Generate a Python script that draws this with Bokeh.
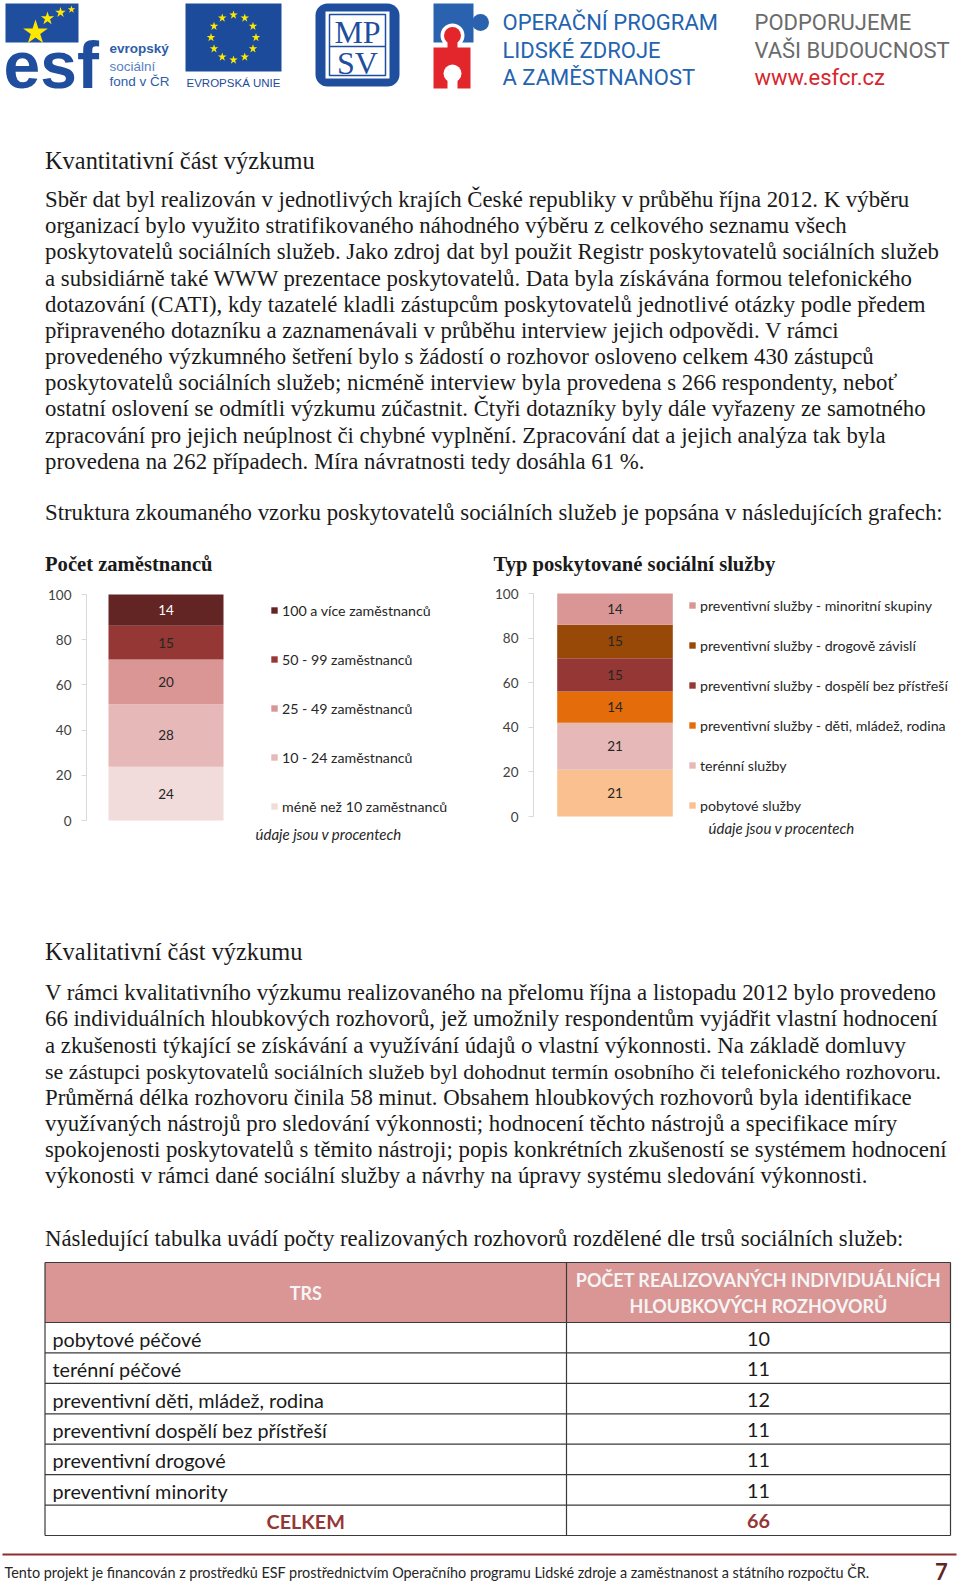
import numpy as np
from bokeh.plotting import figure
from bokeh.models import Range1d, FixedTicker, Legend, LegendItem, ColumnDataSource
from bokeh.layouts import column, row
from bokeh.embed import file_html
from bokeh.resources import INLINE
from bokeh.core.properties import value

# ---------------- data / texts ----------------
heading_1 = "Kvantitativní část výzkumu"
para_1 = [
    "Sběr dat byl realizován v jednotlivých krajích České republiky v průběhu října 2012. K výběru",
    "organizací bylo využito stratifikovaného náhodného výběru z celkového seznamu všech",
    "poskytovatelů sociálních služeb. Jako zdroj dat byl použit Registr poskytovatelů sociálních služeb",
    "a subsidiárně také WWW prezentace poskytovatelů. Data byla získávána formou telefonického",
    "dotazování (CATI), kdy tazatelé kladli zástupcům poskytovatelů jednotlivé otázky podle předem",
    "připraveného dotazníku a zaznamenávali v průběhu interview jejich odpovědi. V rámci",
    "provedeného výzkumného šetření bylo s žádostí o rozhovor osloveno celkem 430 zástupců",
    "poskytovatelů sociálních služeb; nicméně interview byla provedena s 266 respondenty, neboť",
    "ostatní oslovení se odmítli výzkumu zúčastnit. Čtyři dotazníky byly dále vyřazeny ze samotného",
    "zpracování pro jejich neúplnost či chybné vyplnění. Zpracování dat a jejich analýza tak byla",
    "provedena na 262 případech. Míra návratnosti tedy dosáhla 61 %.",
]
charts_intro = "Struktura zkoumaného vzorku poskytovatelů sociálních služeb je popsána v následujících grafech:"

emp_title = "Počet zaměstnanců"
emp_categories = ["méně než 10 zaměstnanců", "10 - 24 zaměstnanců", "25 - 49 zaměstnanců",
                  "50 - 99 zaměstnanců", "100 a více zaměstnanců"]
emp_values = [24, 28, 20, 15, 14]

svc_title = "Typ poskytované sociální služby"
svc_categories = ["pobytové služby", "terénní služby", "preventivní služby - děti, mládež, rodina",
                  "preventivní služby - dospělí bez přístřeší", "preventivní služby - drogově závislí",
                  "preventivní služby - minoritní skupiny"]
svc_values = [21, 21, 14, 15, 15, 14]

y_ticks = [0, 20, 40, 60, 80, 100]
note_text = "údaje jsou v procentech"

heading_2 = "Kvalitativní část výzkumu"
para_2 = [
    "V rámci kvalitativního výzkumu realizovaného na přelomu října a listopadu 2012 bylo provedeno",
    "66 individuálních hloubkových rozhovorů, jež umožnily respondentům vyjádřit vlastní hodnocení",
    "a zkušenosti týkající se získávání a využívání údajů o vlastní výkonnosti. Na základě domluvy",
    "se zástupci poskytovatelů sociálních služeb byl dohodnut termín osobního či telefonického rozhovoru.",
    "Průměrná délka rozhovoru činila 58 minut. Obsahem hloubkových rozhovorů byla identifikace",
    "využívaných nástrojů pro sledování výkonnosti; hodnocení těchto nástrojů a specifikace míry",
    "spokojenosti poskytovatelů s těmito nástroji; popis konkrétních zkušeností se systémem hodnocení",
    "výkonosti v rámci dané sociální služby a návrhy na úpravy systému sledování výkonnosti.",
]
table_intro = "Následující tabulka uvádí počty realizovaných rozhovorů rozdělené dle trsů sociálních služeb:"
table_head_1 = "TRS"
table_head_2 = ["POČET REALIZOVANÝCH INDIVIDUÁLNÍCH", "HLOUBKOVÝCH ROZHOVORŮ"]
table_rows = ["pobytové péčové", "terénní péčové", "preventivní děti, mládež, rodina",
              "preventivní dospělí bez přístřeší", "preventivní drogové", "preventivní minority"]
table_counts = [10, 11, 12, 11, 11, 11]
table_total_label = "CELKEM"

footer_text = ("Tento projekt je financován z prostředků ESF prostřednictvím Operačního programu "
               "Lidské zdroje a zaměstnanost a státního rozpočtu ČR.")
page_number = "7"

# ---------------- styles ----------------
emp_colors = ["#F2DCDB", "#E6B9B8", "#D99694", "#953735", "#632523"]
emp_text_colors = ["#262626", "#262626", "#262626", "#262626", "#FFFFFF"]
svc_colors = ["#FAC090", "#E6B9B8", "#E46C0A", "#953735", "#984807", "#D99694"]
svc_text_colors = ["#262626"] * 6

SERIF = "Liberation Serif"
SANS = "Lato"
TXT = "#1a1a1a"
BLUE = "#1F4E9E"
OPBLUE = "#2463AE"
BODY = 22.8
PW = 960


def blank(y0, y1):
    p = figure(width=PW, height=y1 - y0, x_range=Range1d(0, PW), y_range=Range1d(y1, y0),
               toolbar_location=None, output_backend="svg", x_axis_location=None,
               y_axis_location=None, min_border=0)
    p.grid.visible = False
    p.outline_line_color = None
    return p


def put_text(p, xs, ys, texts, size, font=SERIF, color=TXT, style="normal",
             align="left", baseline="middle"):
    sizes = size if isinstance(size, list) else [size] * len(texts)
    src = ColumnDataSource(dict(x=list(xs), y=list(ys), t=list(texts),
                                fs=[f"{s}px" for s in sizes]))
    p.text(x="x", y="y", text="t", source=src, text_font=value(font),
           text_font_size="fs", text_color=color,
           text_font_style=value(style), text_align=value(align),
           text_baseline=value(baseline))


# ================= TOP =================
TOP_END = 578
top = blank(0, TOP_END)

# ESF logo
top.quad(left=5, right=78, top=3, bottom=42, fill_color=BLUE, line_color=None)
top.scatter(x=[35, 47, 60, 71], y=[32, 18, 12, 9], marker="star", size=[26, 14, 11, 8],
            fill_color="#FFE800", line_color=None)
put_text(top, [3], [64], ["esf"], 66, font="Liberation Sans", color=BLUE, style="bold")
put_text(top, [109], [48], ["evropský"], 13.5, font="Liberation Sans", color="#2E5DA8", style="bold")
put_text(top, [109], [66], ["sociální"], 13.5, font="Liberation Sans", color="#5B7FBF")
put_text(top, [109], [81], ["fond v ČR"], 13.5, font="Liberation Sans", color="#2E5DA8")

# EU flag
top.quad(left=185, right=281, top=3, bottom=71, fill_color="#1D4B9C", line_color=None)
ang = np.arange(12) * 2 * np.pi / 12
top.scatter(x=233 + 22.5 * np.sin(ang), y=37 - 22.5 * np.cos(ang), marker="star", size=9,
            fill_color="#FFE800", line_color=None)
put_text(top, [233], [82], ["EVROPSKÁ UNIE"], 11.5, font="Liberation Sans", color="#1D4B9C",
         align="center")

# MPSV
top.quad(left=315, right=399, top=3, bottom=86, fill_color=BLUE, line_color=None, border_radius=12)
top.quad(left=325, right=389, top=11, bottom=78, fill_color="white", line_color=None)
top.quad(left=329, right=385, top=14, bottom=75, fill_color=None, line_color=BLUE, line_width=1.5)
top.segment(x0=[329], y0=[46], x1=[385], y1=[46], line_color=BLUE, line_width=1.5)
put_text(top, [357, 357], [31, 62], ["MP", "SV"], 32, font=SERIF, color=BLUE, align="center")

# puzzle
PBLUE, PRED = "#2A62B0", "#E3262C"
top.quad(left=433, right=473, top=3, bottom=42, fill_color=PBLUE, line_color=None)
top.scatter(x=[480], y=[22], marker="circle", size=17, fill_color=PBLUE, line_color=None)
top.scatter(x=[452], y=[35], marker="circle", size=24, fill_color="white", line_color=None)
top.quad(left=433, right=470, top=47, bottom=88, fill_color=PRED, line_color=None)
top.quad(left=447, right=457, top=38, bottom=48, fill_color=PRED, line_color=None)
top.scatter(x=[452], y=[35], marker="circle", size=17, fill_color=PRED, line_color=None)
top.scatter(x=[452], y=[73], marker="circle", size=18, fill_color="white", line_color=None)
top.quad(left=447, right=457, top=73, bottom=89, fill_color="white", line_color=None)

put_text(top, [502] * 3, [22, 50, 77], ["OPERAČNÍ PROGRAM", "LIDSKÉ ZDROJE", "A ZAMĚSTNANOST"],
         22, font="Roboto", color=OPBLUE)
put_text(top, [754] * 2, [22, 50], ["PODPORUJEME", "VAŠI BUDOUCNOST"], 22, font="Roboto",
         color="#6B6B6B")
put_text(top, [754], [77], ["www.esfcr.cz"], 22, font="Roboto", color="#D8262E")

# texts
put_text(top, [44.5], [160], [heading_1], 24.4)
put_text(top, [44.5] * len(para_1), [199 + 26.17 * k for k in range(len(para_1))], para_1, BODY)
put_text(top, [44.5], [512], [charts_intro], BODY)
put_text(top, [44.5, 493], [563.5, 563.5], [emp_title, svc_title], 20.6, style="bold")


# ================= CHARTS =================
C_TOP, C_BOT = TOP_END, 870


def chart(cats, vals, colors, tcolors, fig_x0, W, fl, y100, y0px, cat_px, bar_px,
          legend_x, legend_first, legend_pitch, note_xy):
    fr = fig_x0 + W
    x_end = (fr - fl) / cat_px

    def dy(py):
        return (y0px - py) / (y0px - y100) * 100

    def dx(px):
        return (px - fl) / cat_px

    p = figure(width=W, height=C_BOT - C_TOP, x_range=Range1d(0, x_end),
               y_range=Range1d(dy(C_BOT), dy(C_TOP)),
               toolbar_location=None, output_backend="svg", x_axis_location=None,
               min_border_left=fl - fig_x0, min_border_right=0,
               min_border_top=0, min_border_bottom=0)
    p.grid.visible = False
    p.outline_line_color = None

    v = np.array(vals, dtype=float)
    total = v.sum()
    tops = np.cumsum(v) / total * 100
    bottoms = tops - v / total * 100
    rs = []
    for i in range(len(vals)):
        r = p.vbar(x=[0.5], bottom=[bottoms[i]], top=[tops[i]], width=bar_px / cat_px,
                   fill_color=colors[i], line_color=None)
        rs.append(r)
    mids = (tops + bottoms) / 2
    src = ColumnDataSource(dict(x=[0.5] * len(vals), y=list(mids), t=[str(x) for x in vals],
                                c=tcolors))
    p.text(x="x", y="y", text="t", text_color="c", source=src, text_font=value(SANS),
           text_font_size=value("13.5px"), text_align="center", text_baseline="middle")

    ax = p.yaxis[0]
    ax.ticker = FixedTicker(ticks=y_ticks)
    ax.bounds = (0, 100)
    ax.axis_line_color = "#D9D9D9"
    ax.major_tick_line_color = "#D9D9D9"
    ax.minor_tick_line_color = None
    ax.major_tick_out = 5
    ax.major_tick_in = 0
    ax.major_label_standoff = 10
    ax.major_label_text_font = SANS
    ax.major_label_text_font_size = "13.5px"
    ax.major_label_text_color = "#404040"

    n = len(vals)
    item_h = 18
    spacing = int(round(legend_pitch - item_h))
    leg_h = n * item_h + (n - 1) * spacing
    leg_top = legend_first - item_h / 2
    items = [LegendItem(label=value(cats[i]), renderers=[rs[i]]) for i in reversed(range(n))]
    legend = Legend(items=items,
                    location=(int(legend_x - fl), int(round(C_BOT - (leg_top + leg_h)))),
                    glyph_width=8, glyph_height=8, label_height=item_h, label_standoff=4,
                    spacing=spacing, padding=0, margin=0, border_line_color=None,
                    background_fill_alpha=0, label_text_font=SANS,
                    label_text_font_size="14.2px", label_text_color="#262626")
    p.add_layout(legend)

    p.text(x=[dx(note_xy[0])], y=[dy(note_xy[1])], text=[note_text], text_font=value(SANS),
           text_font_size=value("15px"), text_font_style="italic", text_color="#262626",
           text_baseline="middle", text_align="left")
    return p


c1 = chart(emp_categories, emp_values, emp_colors, emp_text_colors,
           0, 480, 86, 594, 820, 159, 115, 270, 610, 49, (255, 833))
c2 = chart(svc_categories, svc_values, svc_colors, svc_text_colors,
           480, 480, 533, 593, 816, 163, 115.6, 688, 605, 40.2, (708, 827))

# ================= BOTTOM =================
bot = blank(870, 1585)
put_text(bot, [44.5], [951], [heading_2], 24.4)
p2_sizes = [BODY] * len(para_2)
p2_sizes[3] = 21.9
put_text(bot, [44.5] * len(para_2), [992.3 + 26.15 * k for k in range(len(para_2))], para_2,
         p2_sizes)
put_text(bot, [44.5], [1238], [table_intro], BODY)

# table
tl, tr, tdiv = 44.5, 950, 566
t_top, h_bot, t_bot = 1262, 1322, 1535
n_rows = len(table_rows) + 1
row_h = (t_bot - h_bot) / n_rows
bot.quad(left=tl, right=tr, top=t_top, bottom=h_bot, fill_color="#D99694", line_color=None)
hy = [t_top, h_bot] + [h_bot + row_h * (k + 1) for k in range(n_rows)]
bot.segment(x0=[tl] * len(hy), y0=hy, x1=[tr] * len(hy), y1=hy, line_color="#3a3a3a",
            line_width=1.2)
bot.segment(x0=[tl, tdiv, tr], y0=[t_top] * 3, x1=[tl, tdiv, tr], y1=[t_bot] * 3,
            line_color="#3a3a3a", line_width=1.2)
c1x = (tl + tdiv) / 2
c2x = (tdiv + tr) / 2
put_text(bot, [c1x], [1292], [table_head_1], 18, font=SANS, color="#F5F5F5", style="bold",
         align="center")
put_text(bot, [c2x, c2x], [1279, 1305], table_head_2, 18, font=SANS, color="#F5F5F5",
         style="bold", align="center")
row_y = [h_bot + row_h * (k + 0.5) + 1 for k in range(n_rows)]
put_text(bot, [52] * len(table_rows), row_y[:-1], table_rows, 19.8, font=SANS)
put_text(bot, [c2x] * len(table_counts), row_y[:-1], [str(c) for c in table_counts], 19.8,
         font=SANS, align="center")
put_text(bot, [c1x, c2x], [row_y[-1]] * 2, [table_total_label, str(sum(table_counts))], 19.8,
         font=SANS, color="#953735", style="bold", align="center")

# footer
bot.segment(x0=[2], y0=[1554], x1=[956], y1=[1554], line_color="#8E2F2E", line_width=2)
put_text(bot, [4], [1572], [footer_text], 14.4, font=SANS, color="#262626")
put_text(bot, [941], [1571], [page_number], 22, font=SANS, color="#632523", style="bold",
         align="center")

layout = column(top, row(c1, c2), bot)
open("out.html", "w").write(file_html(layout, INLINE))
